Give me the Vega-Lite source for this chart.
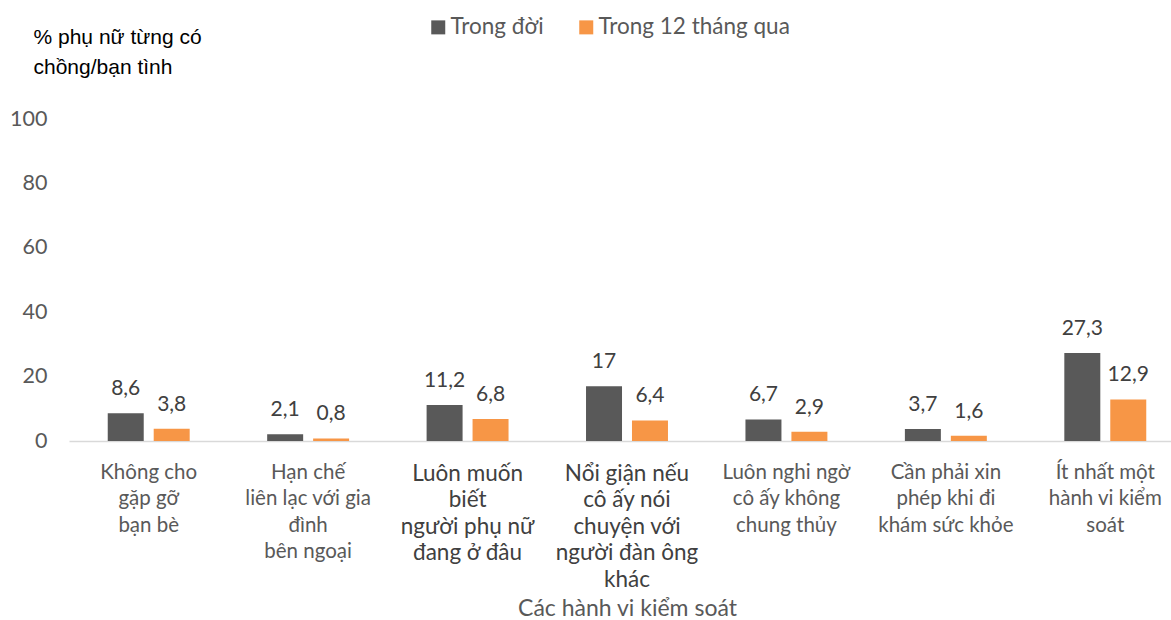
{
  "$schema": "https://vega.github.io/schema/vega-lite/v6.json",
  "width": 1116,
  "height": 322,
  "autosize": {"type": "none"},
  "padding": {"left": 69, "top": 119, "right": 0, "bottom": 179},
  "background": "white",
  "config": {
    "view": {"stroke": null},
    "font": "Lato",
    "locale": {"number": {"decimal": ",", "thousands": ".", "grouping": [3], "currency": ["", ""]}}
  },
  "data": {
    "values": [
      {"hanhvi": "Không cho|gặp gỡ|bạn bè", "nhom": "Trong đời", "value": 8.6},
      {"hanhvi": "Không cho|gặp gỡ|bạn bè", "nhom": "Trong 12 tháng qua", "value": 3.8},
      {"hanhvi": "Hạn chế|liên lạc với gia|đình|bên ngoại", "nhom": "Trong đời", "value": 2.1},
      {"hanhvi": "Hạn chế|liên lạc với gia|đình|bên ngoại", "nhom": "Trong 12 tháng qua", "value": 0.8},
      {"hanhvi": "Luôn muốn|biết|người phụ nữ|đang ở đâu", "nhom": "Trong đời", "value": 11.2},
      {"hanhvi": "Luôn muốn|biết|người phụ nữ|đang ở đâu", "nhom": "Trong 12 tháng qua", "value": 6.8},
      {"hanhvi": "Nổi giận nếu|cô ấy nói|chuyện với|người đàn ông|khác", "nhom": "Trong đời", "value": 17},
      {"hanhvi": "Nổi giận nếu|cô ấy nói|chuyện với|người đàn ông|khác", "nhom": "Trong 12 tháng qua", "value": 6.4},
      {"hanhvi": "Luôn nghi ngờ|cô ấy không|chung thủy", "nhom": "Trong đời", "value": 6.7},
      {"hanhvi": "Luôn nghi ngờ|cô ấy không|chung thủy", "nhom": "Trong 12 tháng qua", "value": 2.9},
      {"hanhvi": "Cần phải xin|phép khi đi|khám sức khỏe", "nhom": "Trong đời", "value": 3.7},
      {"hanhvi": "Cần phải xin|phép khi đi|khám sức khỏe", "nhom": "Trong 12 tháng qua", "value": 1.6},
      {"hanhvi": "Ít nhất một|hành vi kiểm|soát", "nhom": "Trong đời", "value": 27.3},
      {"hanhvi": "Ít nhất một|hành vi kiểm|soát", "nhom": "Trong 12 tháng qua", "value": 12.9}
    ]
  },
  "encoding": {
    "x": {
      "field": "hanhvi",
      "type": "nominal",
      "sort": [
        "Không cho|gặp gỡ|bạn bè",
        "Hạn chế|liên lạc với gia|đình|bên ngoại",
        "Luôn muốn|biết|người phụ nữ|đang ở đâu",
        "Nổi giận nếu|cô ấy nói|chuyện với|người đàn ông|khác",
        "Luôn nghi ngờ|cô ấy không|chung thủy",
        "Cần phải xin|phép khi đi|khám sức khỏe",
        "Ít nhất một|hành vi kiểm|soát"
      ],
      "scale": {"paddingInner": 0.486, "paddingOuter": 0.243},
      "axis": {
        "title": "Các hành vi kiểm soát",
        "titleFont": "Lato",
        "titleFontSize": 23,
        "titleFontWeight": "normal",
        "titleColor": "#595959",
        "titleBaseline": "alphabetic",
        "titleY": 174,
        "labelExpr": "split(datum.label, '|')",
        "labelAngle": 0,
        "labelFont": "Lato",
        "labelFontSize": {"expr": "indexof(datum.label, 'Luôn muốn') == 0 || indexof(datum.label, 'Nổi giận') == 0 ? 22.5 : 20.5"},
        "labelColor": {"expr": "indexof(datum.label, 'Luôn muốn') == 0 || indexof(datum.label, 'Nổi giận') == 0 ? '#404040' : '#595959'"},
        "labelLineHeight": 26.5,
        "labelPadding": 21,
        "labelLimit": 220,
        "ticks": false,
        "domainColor": "#D9D9D9",
        "domainWidth": 1.5
      }
    },
    "xOffset": {
      "field": "nhom",
      "type": "nominal",
      "sort": ["Trong đời", "Trong 12 tháng qua"],
      "scale": {"paddingInner": 0.217, "paddingOuter": 0}
    },
    "y": {
      "field": "value",
      "type": "quantitative",
      "scale": {"domain": [0, 100], "nice": false},
      "axis": {
        "values": [0, 20, 40, 60, 80, 100],
        "grid": false,
        "domain": false,
        "ticks": false,
        "labelFont": "Lato",
        "labelFontSize": 21.5,
        "labelColor": "#595959",
        "labelPadding": 22,
        "title": ["% phụ nữ từng có", "chồng/bạn tình"],
        "titleFont": "Liberation Sans",
        "titleFontSize": 21,
        "titleFontWeight": "normal",
        "titleColor": "#000000",
        "titleAngle": 0,
        "titleAlign": "left",
        "titleBaseline": "alphabetic",
        "titleX": -36,
        "titleY": -76,
        "titleLineHeight": 30
      }
    }
  },
  "layer": [
    {
      "mark": {"type": "bar"},
      "encoding": {
        "color": {
          "field": "nhom",
          "type": "nominal",
          "sort": ["Trong đời", "Trong 12 tháng qua"],
          "scale": {"domain": ["Trong đời", "Trong 12 tháng qua"], "range": ["#595959", "#F79646"]},
          "legend": {
            "title": null,
            "orient": "none",
            "direction": "horizontal",
            "legendX": 358,
            "legendY": -103,
            "symbolType": "square",
            "symbolSize": 196,
            "symbolStrokeWidth": 0,
            "labelFont": "Lato",
            "labelFontSize": 22.5,
            "labelColor": "#595959",
            "labelOffset": 1,
            "labelLimit": 300,
            "columnPadding": 31
          }
        }
      }
    },
    {
      "mark": {"type": "text", "baseline": "bottom", "dy": -14, "fontSize": 21, "color": "#404040", "font": "Lato"},
      "encoding": {
        "text": {"field": "value", "type": "quantitative", "format": ".3~g"}
      }
    }
  ]
}
